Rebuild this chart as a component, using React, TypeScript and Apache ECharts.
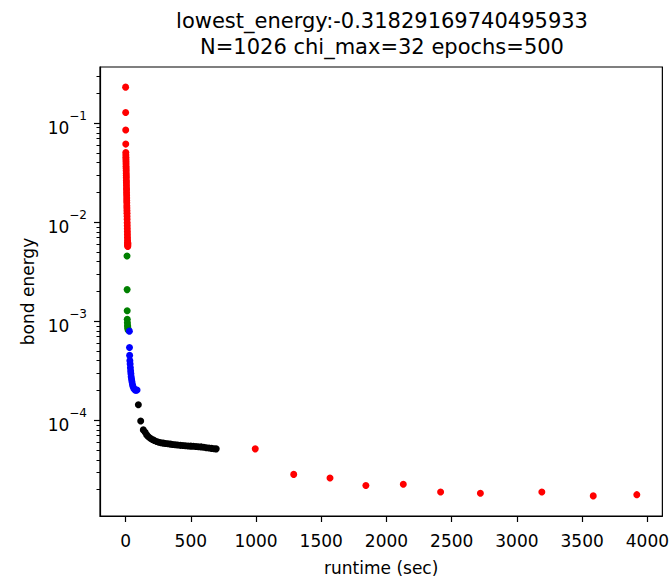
import React, { useEffect, useRef } from "react";
import * as echarts from "echarts";

// ---- data (runtime in seconds, bond energy) ----
const redEarlyTime = [0.3, 0.7, 1.1, 1.5, 1.9, 2.2, 2.6, 2.9, 3.3, 3.6, 4.0, 4.3, 4.7, 5.0, 5.4, 5.7, 6.1, 6.4, 6.8, 7.1, 7.5, 7.8, 8.2, 8.6, 8.9, 9.3, 9.7, 10.1, 10.6, 11.0, 11.5, 11.9, 12.4, 12.8, 13.3, 13.7, 14.2, 14.6, 15.1, 15.5, 16.0, 16.4, 16.9, 17.3, 17.8];
const redEarlyEnergy = [0.231, 0.128, 0.0853, 0.0615, 0.0505, 0.0478, 0.0452, 0.0431, 0.0409, 0.0388, 0.0366, 0.0349, 0.0331, 0.0312, 0.0296, 0.0281, 0.0264, 0.0251, 0.0236, 0.0222, 0.0211, 0.0198, 0.0187, 0.0176, 0.0166, 0.0157, 0.0147, 0.0139, 0.0131, 0.0123, 0.0115, 0.0107, 0.0099, 0.0092, 0.0086, 0.008, 0.0075, 0.007, 0.0066, 0.0063, 0.006, 0.0058, 0.0057, 0.0059, 0.0061];
const greenTime = [11.2, 11.8, 12.5, 13.1, 14.0, 15.2, 16.3, 17.5, 18.6];
const greenEnergy = [0.00457, 0.00209, 0.00128, 0.00105, 0.00097, 0.00091, 0.00088, 0.00085, 0.00082];
const blueTime = [29, 30, 31, 33, 35, 37, 39, 41, 43, 46, 49, 53, 57, 63, 72, 80, 88];
const blueEnergy = [0.000796, 0.000544, 0.000453, 0.000401, 0.00037, 0.00034, 0.000315, 0.000295, 0.000275, 0.00026, 0.000245, 0.00023, 0.00022, 0.00021, 0.000203, 0.000202, 0.000203];
const blackTime = [98, 116, 136, 150, 162, 175, 190, 205, 220, 238, 255, 272, 290, 308, 326, 345, 363, 382, 400, 420, 440, 460, 480, 500, 520, 540, 560, 580, 600, 620, 640, 660, 680, 695];
const blackEnergy = [1.44e-4, 9.84e-5, 8.02e-5, 7.6e-5, 7.14e-5, 6.85e-5, 6.6e-5, 6.42e-5, 6.28e-5, 6.12e-5, 6.02e-5, 5.95e-5, 5.9e-5, 5.85e-5, 5.8e-5, 5.76e-5, 5.72e-5, 5.68e-5, 5.64e-5, 5.6e-5, 5.58e-5, 5.55e-5, 5.52e-5, 5.5e-5, 5.48e-5, 5.45e-5, 5.42e-5, 5.4e-5, 5.36e-5, 5.3e-5, 5.26e-5, 5.22e-5, 5.18e-5, 5.16e-5];
const redLateTime = [994, 1289, 1567, 1842, 2129, 2415, 2720, 3191, 3585, 3919];
const redLateEnergy = [5.16e-5, 2.85e-5, 2.62e-5, 2.2e-5, 2.27e-5, 1.89e-5, 1.84e-5, 1.89e-5, 1.73e-5, 1.78e-5];

const xTickValues = [0, 500, 1000, 1500, 2000, 2500, 3000, 3500, 4000];
const yMajorExponents = [-4, -3, -2, -1];
const titleLines = ["lowest_energy:-0.31829169740495933", "N=1026 chi_max=32 epochs=500"];
const xAxisName = "runtime (sec)";
const yAxisName = "bond energy";

const X_MIN = -196;
const X_MAX = 4115;
const Y_MIN_LOG = -4.965;
const Y_MAX_LOG = -0.433;

const FONT = "DejaVu Sans";
const TICK_FS = 17;
const LABEL_FS = 17;
const TITLE_FS = 21;

function toPairs(t: number[], e: number[]) {
  return t.map((v, i) => [v, Math.log10(e[i])]);
}

export default function App() {
  const ref = useRef<HTMLDivElement>(null);
  useEffect(() => {
    if (!ref.current) return;
    const chart = echarts.init(ref.current, null, { renderer: "svg" });

    const minorTicks: number[] = [];
    for (let n = -6; n <= 0; n++) {
      for (let k = 2; k <= 9; k++) {
        const v = n + Math.log10(k);
        if (v > Y_MIN_LOG && v < Y_MAX_LOG) minorTicks.push(v);
      }
    }

    const scatter = (name: string, data: number[][], color: string) => ({
      name,
      type: "scatter",
      data,
      symbol: "circle",
      symbolSize: 7,
      itemStyle: { color, opacity: 1 },
      emphasis: { disabled: true },
      silent: true,
    });

    chart.setOption({
      animation: false,
      backgroundColor: "#fff",
      textStyle: { fontFamily: FONT },
      graphic: [
        {
          type: "text",
          x: 382,
          y: 8,
          style: {
            text: titleLines.join("\n"),
            font: `${TITLE_FS}px "${FONT}"`,
            fill: "#000",
            textAlign: "center",
            textVerticalAlign: "top",
            lineHeight: 26,
          },
        },
      ],
      grid: {
        left: 100,
        top: 67,
        right: 8,
        bottom: 57,
        show: true,
        borderColor: "#000",
        borderWidth: 1.2,
        backgroundColor: "transparent",
      },
      xAxis: {
        type: "value",
        min: X_MIN,
        max: X_MAX,
        name: xAxisName,
        nameLocation: "middle",
        nameGap: 43,
        nameTextStyle: { fontFamily: FONT, fontSize: LABEL_FS, color: "#000" },
        axisLine: { show: true, onZero: false, lineStyle: { color: "#000", width: 1.2 } },
        axisTick: { show: true, length: 6, customValues: xTickValues, lineStyle: { color: "#000", width: 1.2 } },
        axisLabel: {
          show: true,
          customValues: xTickValues,
          margin: 16,
          fontFamily: FONT,
          fontSize: TICK_FS,
          color: "#000",
          formatter: (v: number) => String(v),
        },
        splitLine: { show: false },
      },
      yAxis: [
        {
          type: "value",
          min: Y_MIN_LOG,
          max: Y_MAX_LOG,
          name: yAxisName,
          nameLocation: "middle",
          nameGap: 62,
          nameTextStyle: { fontFamily: FONT, fontSize: LABEL_FS, color: "#000" },
          axisLine: { show: true, onZero: false, lineStyle: { color: "#000", width: 1.2 } },
          axisTick: { show: true, length: 6, customValues: yMajorExponents, lineStyle: { color: "#000", width: 1.2 } },
          axisLabel: {
            show: true,
            customValues: yMajorExponents,
            margin: 13,
            formatter: (v: number) => `{b|10}{s|\u2212${Math.abs(Math.round(v))}}`,
            rich: {
              b: { fontFamily: FONT, fontSize: TICK_FS, color: "#000", verticalAlign: "bottom", lineHeight: 26 },
              s: { fontFamily: FONT, fontSize: 12, color: "#000", verticalAlign: "top", lineHeight: 26 },
            },
          },
          splitLine: { show: false },
        },
        {
          type: "value",
          min: Y_MIN_LOG,
          max: Y_MAX_LOG,
          position: "left",
          offset: 0,
          axisLine: { show: false, onZero: false },
          axisTick: { show: true, length: 3.5, customValues: minorTicks, lineStyle: { color: "#000", width: 1 } },
          axisLabel: { show: false },
          splitLine: { show: false },
        },
      ],
      series: [
        scatter("red early", toPairs(redEarlyTime, redEarlyEnergy), "#ff0000"),
        scatter("green", toPairs(greenTime, greenEnergy), "#008000"),
        scatter("blue", toPairs(blueTime, blueEnergy), "#0000ff"),
        scatter("black", toPairs(blackTime, blackEnergy), "#000000"),
        scatter("red late", toPairs(redLateTime, redLateEnergy), "#ff0000"),
      ],
    });
    return () => chart.dispose();
  }, []);
  return (
    <div
      ref={ref}
      style={{ position: "absolute", left: 0, top: 0, width: 672, height: 581, background: "#fff" }}
    />
  );
}
